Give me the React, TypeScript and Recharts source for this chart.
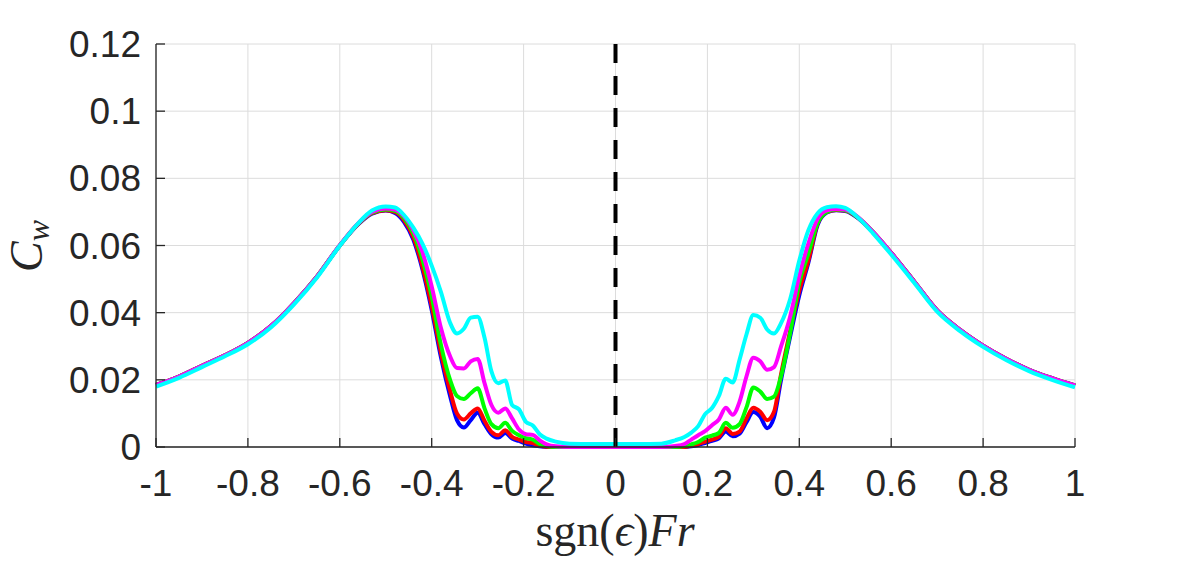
import { LineChart, Line, XAxis, YAxis, CartesianGrid, ReferenceLine, Label } from "recharts";

// sgn(eps)*Fr sample points
const fr = [
  -1, -0.95, -0.9, -0.85, -0.8, -0.75, -0.7, -0.65, -0.6, -0.56, -0.53, -0.5,
  -0.48, -0.46, -0.44, -0.42, -0.4, -0.38, -0.36, -0.345, -0.33, -0.315, -0.3,
  -0.285, -0.27, -0.255, -0.24, -0.225, -0.21, -0.195, -0.18, -0.165, -0.15,
  -0.13, -0.1, -0.05, 0,
  0.05, 0.1, 0.13, 0.15, 0.165, 0.18, 0.195, 0.21, 0.225, 0.24, 0.255, 0.27,
  0.285, 0.3, 0.315, 0.33, 0.345, 0.36, 0.38, 0.4, 0.42, 0.44, 0.46, 0.48, 0.5,
  0.53, 0.56, 0.6, 0.65, 0.7, 0.75, 0.8, 0.85, 0.9, 0.95, 1,
];

const cwBlue = [
  0.0185, 0.021, 0.0242, 0.0273, 0.031, 0.036, 0.0428, 0.0507, 0.06, 0.0663, 0.0695, 0.0704,
  0.0697, 0.067, 0.0618, 0.0528, 0.0408, 0.0268, 0.0152, 0.008, 0.0058, 0.008, 0.0102,
  0.0068, 0.0038, 0.0028, 0.0042, 0.0025, 0.0018, 0.001, 0.0005, 0.0002, 0,
  0, 0, 0, 0,
  0, 0, 0, 0, 0.0002, 0.0006, 0.0012, 0.0018, 0.0026, 0.0046, 0.0032, 0.004,
  0.0074, 0.0104, 0.009, 0.0056, 0.0088, 0.0198, 0.0328, 0.0452, 0.055, 0.0662, 0.0698, 0.0705, 0.0703,
  0.0679, 0.064, 0.0578, 0.0493, 0.0407, 0.0349, 0.0302, 0.0263, 0.023, 0.0205, 0.0183,
];

const cwRed = [
  0.0185, 0.021, 0.0242, 0.0273, 0.031, 0.036, 0.0428, 0.0507, 0.06, 0.0664, 0.0696, 0.0705,
  0.07, 0.0675, 0.0625, 0.0537, 0.042, 0.0282, 0.0168, 0.01, 0.0082, 0.01, 0.0115,
  0.0078, 0.0045, 0.0035, 0.005, 0.003, 0.0022, 0.0015, 0.0012, 0.0004, 0.0001,
  0, 0, 0, 0,
  0, 0, 0, 0, 0.0004, 0.0009, 0.0016, 0.0022, 0.0031, 0.0056, 0.0039, 0.0046,
  0.0085, 0.0117, 0.0105, 0.008, 0.0105, 0.0215, 0.0345, 0.0465, 0.0557, 0.0666, 0.07, 0.0706, 0.0704,
  0.068, 0.064, 0.0578, 0.0493, 0.0407, 0.0349, 0.0302, 0.0263, 0.023, 0.0205, 0.0183,
];

const cwGreen = [
  0.0185, 0.021, 0.0242, 0.0273, 0.031, 0.036, 0.0428, 0.0507, 0.06, 0.0665, 0.0698, 0.0707,
  0.0703, 0.0681, 0.0636, 0.0558, 0.0448, 0.0305, 0.02, 0.0152, 0.0143, 0.016, 0.0175,
  0.0115, 0.0068, 0.0056, 0.0072, 0.0048, 0.0035, 0.0026, 0.0022, 0.0009, 0.0003,
  0, 0, 0, 0,
  0, 0, 0, 0.0003, 0.0008, 0.0015, 0.0028, 0.0034, 0.0042, 0.0072, 0.0057, 0.0068,
  0.0118, 0.0177, 0.0165, 0.0143, 0.015, 0.0209, 0.0338, 0.049, 0.0577, 0.0668, 0.07, 0.0707, 0.0705,
  0.0681, 0.0641, 0.0578, 0.0493, 0.0407, 0.0349, 0.0302, 0.0263, 0.023, 0.0205, 0.0183,
];

const cwMagenta = [
  0.0185, 0.021, 0.0242, 0.0273, 0.031, 0.036, 0.0428, 0.0507, 0.0601, 0.0666, 0.07, 0.071,
  0.0707, 0.0687, 0.0646, 0.058, 0.0478, 0.0355, 0.027, 0.0235, 0.0234, 0.0255, 0.0262,
  0.019, 0.0125, 0.0102, 0.0115, 0.0085, 0.0052, 0.0038, 0.0036, 0.002, 0.0008,
  0.0002, 0, 0, 0,
  0, 0, 0.0003, 0.0009, 0.0022, 0.0035, 0.0047, 0.0065, 0.0082, 0.0117, 0.0096, 0.0135,
  0.021, 0.0266, 0.0255, 0.023, 0.0238, 0.0298, 0.0388, 0.051, 0.0607, 0.068, 0.0705, 0.0709, 0.0707,
  0.0682, 0.0641, 0.0578, 0.0493, 0.0407, 0.0349, 0.0302, 0.0263, 0.023, 0.0205, 0.0183,
];

const cwCyan = [
  0.018, 0.0206, 0.0238, 0.027, 0.0306, 0.0356, 0.0424, 0.0504, 0.0599, 0.0666, 0.0704, 0.0716,
  0.0713, 0.069, 0.0653, 0.0605, 0.054, 0.0462, 0.037, 0.0338, 0.0352, 0.0385, 0.0388,
  0.0325, 0.0225, 0.019, 0.0198, 0.0125, 0.0112, 0.0075, 0.0064, 0.0038, 0.0025,
  0.0016, 0.001, 0.0009, 0.0009,
  0.0009, 0.001, 0.002, 0.003, 0.0043, 0.0062, 0.0098, 0.0116, 0.0152, 0.0203, 0.0192, 0.026,
  0.0335, 0.0393, 0.0385, 0.035, 0.0338, 0.0368, 0.044, 0.0555, 0.0646, 0.0696, 0.0714, 0.0717, 0.0712,
  0.068, 0.0637, 0.0573, 0.0489, 0.0403, 0.0345, 0.0298, 0.0259, 0.0226, 0.02, 0.0178,
];

const xTicks = [-1, -0.8, -0.6, -0.4, -0.2, 0, 0.2, 0.4, 0.6, 0.8, 1];
const yTicks = [0, 0.02, 0.04, 0.06, 0.08, 0.1, 0.12];

const series = [
  { key: "blue", color: "#0000ff" },
  { key: "red", color: "#ff0000" },
  { key: "green", color: "#00ff00" },
  { key: "magenta", color: "#ff00ff" },
  { key: "cyan", color: "#00ffff" },
];

const data = fr.map((x, i) => ({
  x,
  blue: cwBlue[i],
  red: cwRed[i],
  green: cwGreen[i],
  magenta: cwMagenta[i],
  cyan: cwCyan[i],
}));

const axisColor = "#262626";
const tickFont = { fontSize: 37, fill: axisColor, fontFamily: "'Liberation Sans', Arial, sans-serif" };
const serif = "'Liberation Serif', 'Times New Roman', serif";

const YTitle = () => (
  <text
    x={42}
    y={246}
    transform="rotate(-90 42 246)"
    textAnchor="middle"
    fontFamily={serif}
    fontSize={46}
    fill={axisColor}
  >
    <tspan fontStyle="italic">C</tspan>
    <tspan fontStyle="italic" fontSize={32} dy={7}>w</tspan>
  </text>
);

const XTitle = () => (
  <text x={615} y={546} textAnchor="middle" fontFamily={serif} fontSize={46} fill={axisColor}>
    <tspan>sgn(</tspan>
    <tspan fontStyle="italic">ϵ</tspan>
    <tspan>)</tspan>
    <tspan fontStyle="italic">Fr</tspan>
  </text>
);

export default function App() {
  return (
    <div style={{ position: "absolute", left: 0, top: 0, width: 1185, height: 567, background: "#fff" }}>
      <LineChart width={1185} height={567} data={data} margin={{ top: 44, right: 110, bottom: 0, left: 0 }}>
        <CartesianGrid stroke="#dcdcdc" strokeWidth={1} />
        <XAxis
          dataKey="x"
          type="number"
          domain={[-1, 1]}
          ticks={xTicks}
          height={120}
          tick={tickFont}
          tickSize={-9}
          tickMargin={32}
          stroke={axisColor}
          strokeWidth={1.3}
          interval={0}
        >
          <Label content={XTitle} />
        </XAxis>
        <XAxis
          xAxisId="top"
          orientation="top"
          dataKey="x"
          type="number"
          domain={[-1, 1]}
          ticks={xTicks}
          height={0}
          tick={false}
          tickSize={-9}
          stroke={axisColor}
          strokeWidth={1.3}
          interval={0}
        />
        <YAxis
          type="number"
          domain={[0, 0.12]}
          ticks={yTicks}
          width={156}
          tick={tickFont}
          tickSize={-9}
          tickMargin={24}
          stroke={axisColor}
          strokeWidth={1.3}
          interval={0}
        >
          <Label content={YTitle} />
        </YAxis>
        <YAxis
          yAxisId="right"
          orientation="right"
          type="number"
          domain={[0, 0.12]}
          ticks={yTicks}
          width={0}
          tick={false}
          tickSize={-9}
          stroke={axisColor}
          strokeWidth={1.3}
          interval={0}
        />
        {series.map((s) => (
          <Line
            key={s.key}
            type="monotone"
            dataKey={s.key}
            stroke={s.color}
            strokeWidth={4}
            dot={false}
            activeDot={false}
            isAnimationActive={false}
          />
        ))}
        <ReferenceLine x={0} stroke="#000" strokeWidth={4} strokeDasharray="19 13" />
      </LineChart>
    </div>
  );
}
